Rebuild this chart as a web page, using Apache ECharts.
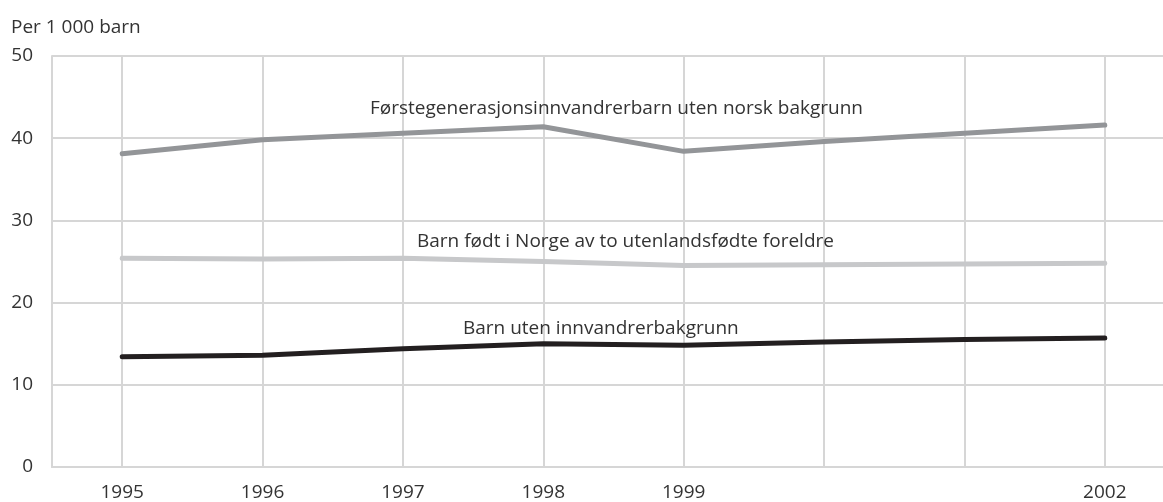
<!DOCTYPE html>
<html><head><meta charset="utf-8">
<script src="https://cdn.jsdelivr.net/npm/echarts@6/dist/echarts.min.js"></script>
<style>html,body{margin:0;padding:0;background:#fff;overflow:hidden}#c{width:1175px;height:502px}</style>
</head><body><div id="c"></div>
<script>
var years = ['1995','1996','1997','1998','1999','2000','2001','2002'];
var shownYears = ['1995','1996','1997','1998','1999','2002'];
var forste = [38.1, 39.8, 40.6, 41.4, 38.4, 39.6, 40.6, 41.6];
var fodtNorge = [25.4, 25.3, 25.4, 25.0, 24.5, 24.6, 24.7, 24.8];
var utenInnv = [13.4, 13.6, 14.4, 15.0, 14.8, 15.2, 15.5, 15.7];
var seriesNames = ['Førstegenerasjonsinnvandrerbarn uten norsk bakgrunn','Barn født i Norge av to utenlandsfødte foreldre','Barn uten innvandrerbakgrunn'];
var yTicks = [0,10,20,30,40,50];
var unitLabel = 'Per 1 000 barn';

var FONT = 'Open Sans';
var chart = echarts.init(document.getElementById('c'));
chart.setOption({
  backgroundColor:'#fff',
  animation:false,
  textStyle:{fontFamily:FONT},
  grid:{left:52, right:0, top:56, bottom:35, containLabel:false},
  xAxis:{type:'category', data:years, boundaryGap:true,
    axisLine:{show:true, lineStyle:{color:'#d6d6d6', width:2}},
    axisTick:{show:false, alignWithLabel:true},
    splitLine:{show:true, alignWithLabel:true, lineStyle:{color:'#d6d6d6', width:2}},
    axisLabel:{interval:0, margin:16, color:'#333', fontSize:19, fontFamily:FONT,
      formatter:function(v){return shownYears.indexOf(v)>=0?v:'';}}
  },
  yAxis:{type:'value', min:yTicks[0], max:yTicks[yTicks.length-1], interval:10,
    axisLine:{show:true, lineStyle:{color:'#d6d6d6', width:2}},
    axisTick:{show:false},
    splitLine:{show:true, lineStyle:{color:'#d6d6d6', width:2}},
    axisLabel:{margin:19, color:'#333', fontSize:19, fontFamily:FONT, padding:[8,0,0,0]}
  },
  series:[
    {name:seriesNames[0], type:'line', data:forste, symbol:'none', lineStyle:{color:'#939598', width:5, cap:'round'}},
    {name:seriesNames[1], type:'line', data:fodtNorge, symbol:'none', lineStyle:{color:'#c7c8ca', width:5, cap:'round'}},
    {name:seriesNames[2], type:'line', data:utenInnv, symbol:'none', lineStyle:{color:'#231f20', width:5, cap:'round'}}
  ],
  graphic:[
    {type:'text', z:100, left:11, top:18, style:{text:unitLabel, fill:'#333', font:'19px "Open Sans"'}},
    {type:'text', z:100, left:370, top:99, style:{text:seriesNames[0], fill:'#333', font:'19px "Open Sans"'}},
    {type:'text', z:100, left:417, top:232, style:{text:seriesNames[1], fill:'#333', font:'19px "Open Sans"'}},
    {type:'text', z:100, left:463, top:319, style:{text:seriesNames[2], fill:'#333', font:'19px "Open Sans"'}}
  ]
});
</script></body></html>
